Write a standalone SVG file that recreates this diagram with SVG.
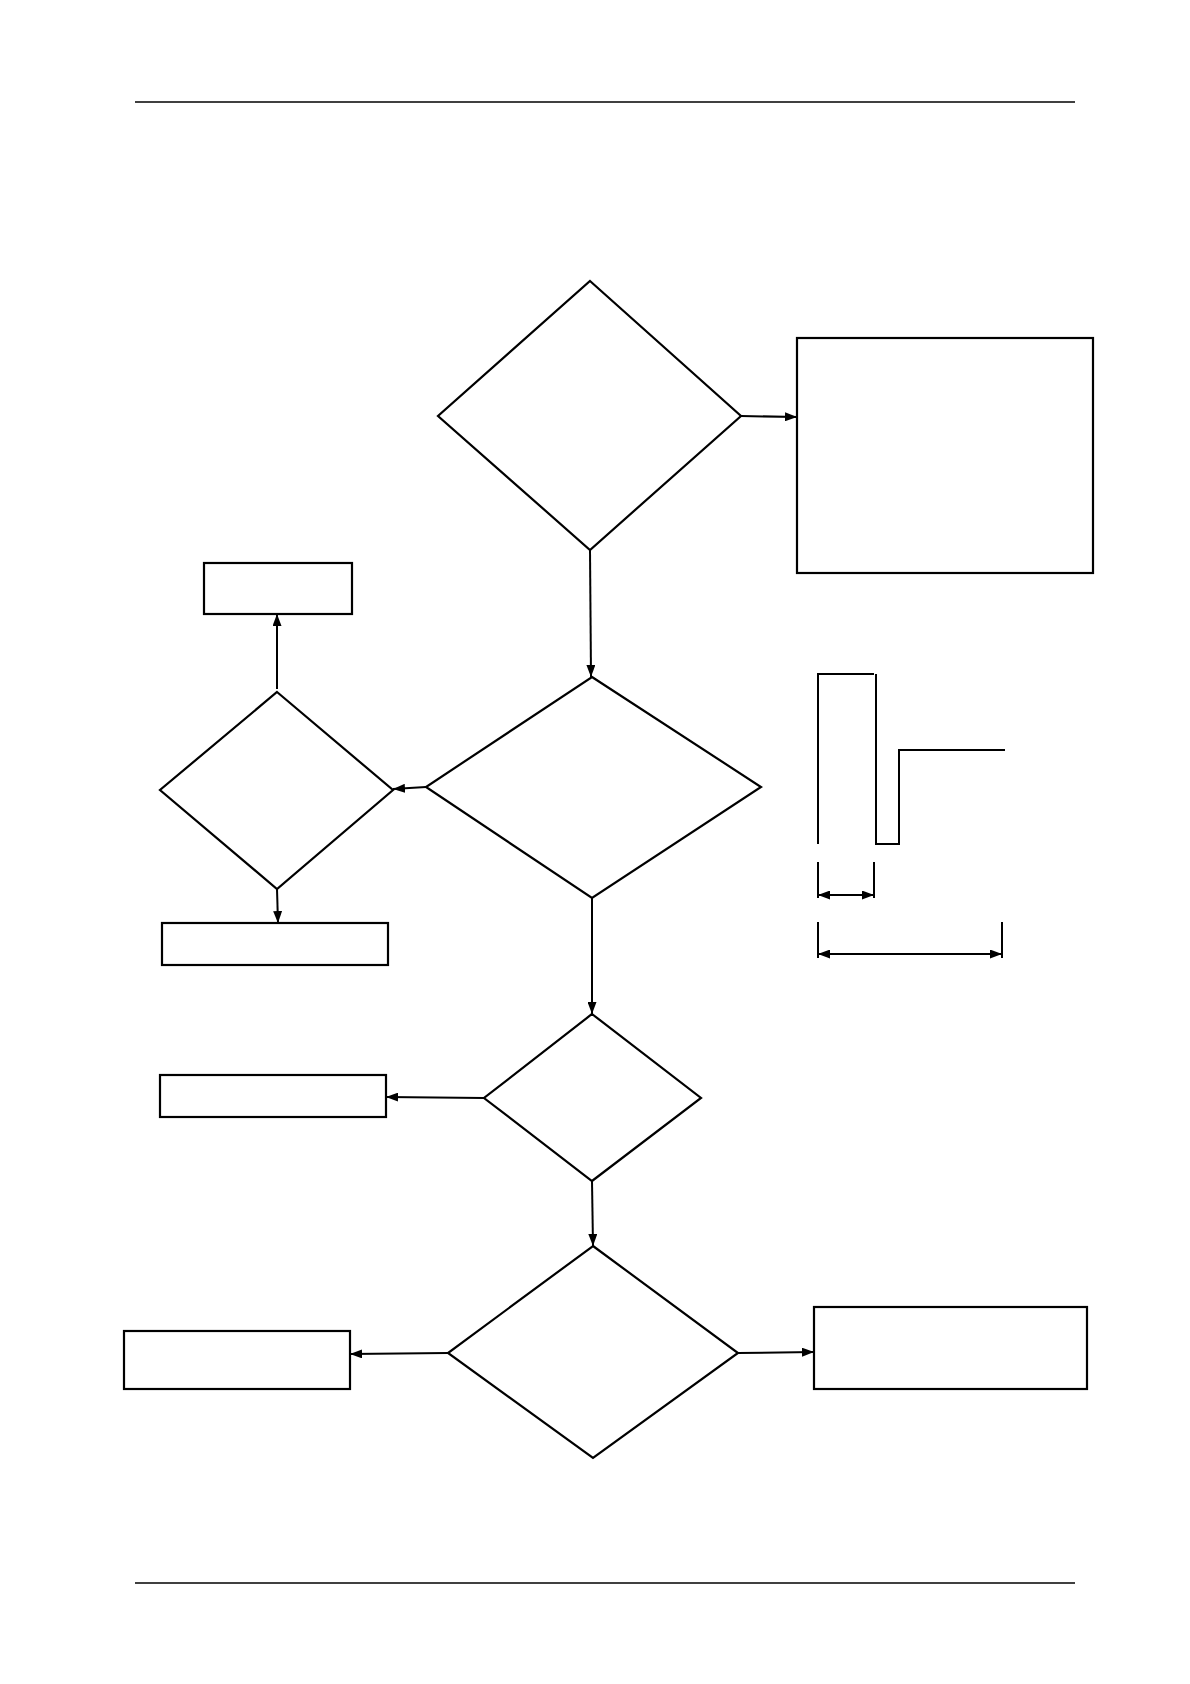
<svg xmlns="http://www.w3.org/2000/svg" width="1190" height="1684" viewBox="0 0 1190 1684">
<style>
.n{fill:#fff;stroke:#000;stroke-width:2.2}
.c{fill:none;stroke:#000;stroke-width:2}
.r{fill:none;stroke:#000;stroke-width:1.3}
</style>
<defs>
<marker id="ah" viewBox="0 0 12 9" refX="12" refY="4.5" markerWidth="12" markerHeight="9" orient="auto-start-reverse" markerUnits="userSpaceOnUse">
<path d="M0,0 L12,4.5 L0,9 z" fill="#000"/>
</marker>
</defs>
<rect width="1190" height="1684" fill="#fff"/>
<g id="rules">
<line class="r" x1="135" y1="102" x2="1075" y2="102"/>
<line class="r" x1="135" y1="1583" x2="1075" y2="1583"/>
</g>
<g id="d1"><polygon class="n" points="590,281 741,416 590,550 438,416"/></g>
<g id="b1"><rect class="n" x="797" y="338" width="296" height="235"/></g>
<g id="d2"><polygon class="n" points="592,677 761,787 592,898 426,787"/></g>
<g id="d3"><polygon class="n" points="277,692 393,790 277,889 160,790"/></g>
<g id="b2"><rect class="n" x="204" y="563" width="148" height="51"/></g>
<g id="b3"><rect class="n" x="162" y="923" width="226" height="42"/></g>
<g id="d4"><polygon class="n" points="592,1014 701,1098 592,1181 484,1098"/></g>
<g id="b4"><rect class="n" x="160" y="1075" width="226" height="42"/></g>
<g id="d5"><polygon class="n" points="593,1246 738,1353 593,1458 448,1353"/></g>
<g id="b5"><rect class="n" x="124" y="1331" width="226" height="58"/></g>
<g id="b6"><rect class="n" x="814" y="1307" width="273" height="82"/></g>
<g id="waveform">
<polyline class="c" points="818,844 818,674 874,674"/>
<polyline class="c" points="876,674 876,844 899,844 899,750 1005,750"/>
<line class="c" x1="818" y1="862" x2="818" y2="898"/>
<line class="c" x1="874" y1="862" x2="874" y2="898"/>
<line class="c" x1="818" y1="895" x2="874" y2="895" marker-start="url(#ah)" marker-end="url(#ah)"/>
<line class="c" x1="818" y1="922" x2="818" y2="958"/>
<line class="c" x1="1002" y1="922" x2="1002" y2="958"/>
<line class="c" x1="818" y1="954" x2="1002" y2="954" marker-start="url(#ah)" marker-end="url(#ah)"/>
</g>
<g id="connectors">
<line class="c" x1="741" y1="416" x2="797" y2="417" marker-end="url(#ah)"/>
<line class="c" x1="590" y1="550" x2="591" y2="677" marker-end="url(#ah)"/>
<line class="c" x1="426" y1="787" x2="393" y2="789" marker-end="url(#ah)"/>
<line class="c" x1="277" y1="689" x2="277" y2="614" marker-end="url(#ah)"/>
<line class="c" x1="277" y1="889" x2="278" y2="923" marker-end="url(#ah)"/>
<line class="c" x1="592" y1="898" x2="592" y2="1014" marker-end="url(#ah)"/>
<line class="c" x1="484" y1="1098" x2="386" y2="1097" marker-end="url(#ah)"/>
<line class="c" x1="592" y1="1181" x2="593" y2="1246" marker-end="url(#ah)"/>
<line class="c" x1="448" y1="1353" x2="350" y2="1354" marker-end="url(#ah)"/>
<line class="c" x1="738" y1="1353" x2="814" y2="1352" marker-end="url(#ah)"/>
</g>
</svg>
